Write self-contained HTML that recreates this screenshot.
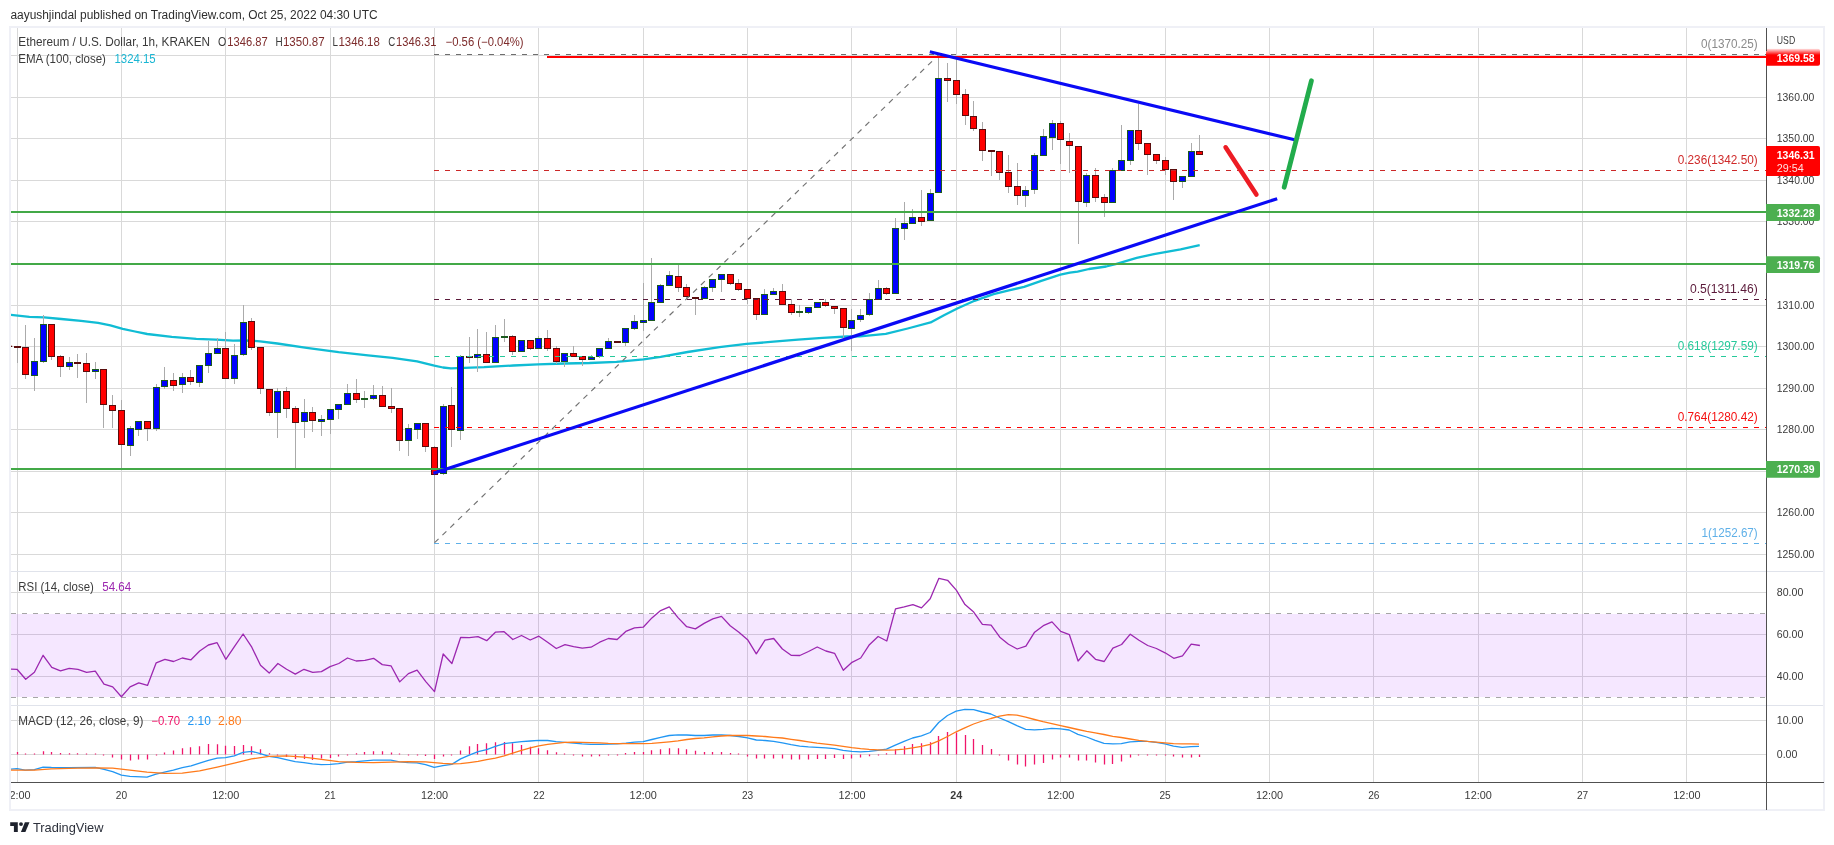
<!DOCTYPE html>
<html><head><meta charset="utf-8"><title>ETHUSD chart</title>
<style>html,body{margin:0;padding:0;background:#fff;}body{width:1834px;height:845px;overflow:hidden;position:relative;font-family:"Liberation Sans",sans-serif;}</style>
</head><body>
<svg width="1834" height="845" viewBox="0 0 1834 845" style="position:absolute;left:0;top:0;display:block;will-change:transform;-webkit-font-smoothing:antialiased">
<rect x="0" y="0" width="1834" height="845" fill="#ffffff"/>
<path d="M17.5 28.0V782M121.5 28.0V782M225.5 28.0V782M330.5 28.0V782M434.5 28.0V782M538.5 28.0V782M643.5 28.0V782M747.5 28.0V782M851.5 28.0V782M956.5 28.0V782M1060.5 28.0V782M1165.5 28.0V782M1269.5 28.0V782M1373.5 28.0V782M1478.5 28.0V782M1582.5 28.0V782M1686.5 28.0V782M11.0 554.5H1766.5M11.0 512.5H1766.5M11.0 471.5H1766.5M11.0 429.5H1766.5M11.0 388.5H1766.5M11.0 346.5H1766.5M11.0 305.5H1766.5M11.0 263.5H1766.5M11.0 221.5H1766.5M11.0 180.5H1766.5M11.0 138.5H1766.5M11.0 97.5H1766.5M11.0 55.5H1766.5M11.0 592.5H1766.5M11.0 634.5H1766.5M11.0 676.5H1766.5M11.0 720.5H1766.5M11.0 754.5H1766.5" stroke="#d9d9d9" stroke-width="1" fill="none" shape-rendering="crispEdges"/>
<path d="M11.0 571.5H1823.5M11.0 705.5H1823.5" stroke="#e0e3eb" stroke-width="1" shape-rendering="crispEdges"/>
<rect x="11.0" y="614" width="1755.0" height="83" fill="rgba(153,21,255,0.1)"/>
<path d="M11.0 613.5H1766.5M11.0 697.5H1766.5" stroke="#a6a6a6" stroke-width="1" stroke-dasharray="5 6" fill="none"/>
<clipPath id="cm"><rect x="11.0" y="28.0" width="1755.0" height="754.0"/></clipPath>
<g clip-path="url(#cm)">
<polyline points="9.8,314.8 29.4,316.8 44.2,317.3 61.3,319.0 81.0,320.9 98.1,322.9 110.4,325.4 122.7,328.8 135.0,331.5 147.2,334.0 171.8,336.9 196.3,338.9 215.9,339.6 233.1,340.6 246.0,340.5 260.1,341.3 277.3,343.5 306.7,347.9 338.6,352.1 368.0,355.3 392.6,357.8 417.1,361.4 434.3,365.6 443.0,367.5 450.9,368.4 464.3,367.9 484.0,367.2 513.4,365.5 538.0,364.3 565.0,363.5 589.5,363.0 616.5,361.8 643.5,359.4 660.6,356.9 687.6,352.0 719.5,347.1 746.5,343.9 773.5,341.7 798.0,339.7 822.6,337.8 847.1,336.5 860.0,336.4 885.8,333.9 907.7,328.5 930.6,322.4 944.0,315.2 957.3,308.5 974.5,300.8 993.6,294.2 1008.9,290.3 1024.1,286.9 1041.3,280.8 1060.4,274.7 1069.9,272.6 1077.6,271.6 1089.0,269.0 1106.2,266.5 1115.7,264.2 1136.7,257.9 1153.9,254.1 1180.6,249.3 1199.7,245.1" stroke="#10bcd4" stroke-width="2.3" fill="none" stroke-linejoin="round"/>
<path d="M17.5 346V363" stroke="#ababab" stroke-width="1" shape-rendering="crispEdges"/>
<rect x="14.5" y="346.5" width="6" height="1" fill="#5a0d0d" stroke="#5a0d0d" stroke-width="1"/>
<path d="M25.5 325V379" stroke="#ababab" stroke-width="1" shape-rendering="crispEdges"/>
<rect x="22.5" y="347.5" width="6" height="27" fill="#ff0000" stroke="#5a0d0d" stroke-width="1"/>
<path d="M34.5 338V391" stroke="#ababab" stroke-width="1" shape-rendering="crispEdges"/>
<rect x="31.5" y="361.5" width="6" height="14" fill="#0000ff" stroke="#1a5a1e" stroke-width="1"/>
<path d="M43.5 315V363" stroke="#ababab" stroke-width="1" shape-rendering="crispEdges"/>
<rect x="40.5" y="324.5" width="6" height="37" fill="#0000ff" stroke="#1a5a1e" stroke-width="1"/>
<path d="M51.5 324V360" stroke="#ababab" stroke-width="1" shape-rendering="crispEdges"/>
<rect x="48.5" y="324.5" width="6" height="32" fill="#ff0000" stroke="#5a0d0d" stroke-width="1"/>
<path d="M60.5 355V377" stroke="#ababab" stroke-width="1" shape-rendering="crispEdges"/>
<rect x="57.5" y="356.5" width="6" height="10" fill="#ff0000" stroke="#5a0d0d" stroke-width="1"/>
<path d="M69.5 357V370" stroke="#ababab" stroke-width="1" shape-rendering="crispEdges"/>
<rect x="66.5" y="362.5" width="6" height="4" fill="#0000ff" stroke="#1a5a1e" stroke-width="1"/>
<path d="M77.5 354V378" stroke="#ababab" stroke-width="1" shape-rendering="crispEdges"/>
<rect x="74.5" y="362.5" width="6" height="1" fill="#ff0000" stroke="#5a0d0d" stroke-width="1"/>
<path d="M86.5 353V403" stroke="#ababab" stroke-width="1" shape-rendering="crispEdges"/>
<rect x="83.5" y="363.5" width="6" height="8" fill="#ff0000" stroke="#5a0d0d" stroke-width="1"/>
<path d="M95.5 362V379" stroke="#ababab" stroke-width="1" shape-rendering="crispEdges"/>
<rect x="92.5" y="369.5" width="6" height="2" fill="#0000ff" stroke="#1a5a1e" stroke-width="1"/>
<path d="M103.5 369V428" stroke="#ababab" stroke-width="1" shape-rendering="crispEdges"/>
<rect x="100.5" y="369.5" width="6" height="35" fill="#ff0000" stroke="#5a0d0d" stroke-width="1"/>
<path d="M112.5 395V428" stroke="#ababab" stroke-width="1" shape-rendering="crispEdges"/>
<rect x="109.5" y="405.5" width="6" height="5" fill="#ff0000" stroke="#5a0d0d" stroke-width="1"/>
<path d="M121.5 400V468" stroke="#ababab" stroke-width="1" shape-rendering="crispEdges"/>
<rect x="118.5" y="410.5" width="6" height="34" fill="#ff0000" stroke="#5a0d0d" stroke-width="1"/>
<path d="M130.5 426V456" stroke="#ababab" stroke-width="1" shape-rendering="crispEdges"/>
<rect x="127.5" y="428.5" width="6" height="17" fill="#0000ff" stroke="#1a5a1e" stroke-width="1"/>
<path d="M138.5 421V436" stroke="#ababab" stroke-width="1" shape-rendering="crispEdges"/>
<rect x="135.5" y="421.5" width="6" height="8" fill="#0000ff" stroke="#1a5a1e" stroke-width="1"/>
<path d="M147.5 421V441" stroke="#ababab" stroke-width="1" shape-rendering="crispEdges"/>
<rect x="144.5" y="421.5" width="6" height="7" fill="#ff0000" stroke="#5a0d0d" stroke-width="1"/>
<path d="M156.5 384V431" stroke="#ababab" stroke-width="1" shape-rendering="crispEdges"/>
<rect x="153.5" y="387.5" width="6" height="41" fill="#0000ff" stroke="#1a5a1e" stroke-width="1"/>
<path d="M164.5 367V389" stroke="#ababab" stroke-width="1" shape-rendering="crispEdges"/>
<rect x="161.5" y="380.5" width="6" height="6" fill="#0000ff" stroke="#1a5a1e" stroke-width="1"/>
<path d="M173.5 373V391" stroke="#ababab" stroke-width="1" shape-rendering="crispEdges"/>
<rect x="170.5" y="380.5" width="6" height="5" fill="#ff0000" stroke="#5a0d0d" stroke-width="1"/>
<path d="M182.5 373V393" stroke="#ababab" stroke-width="1" shape-rendering="crispEdges"/>
<rect x="179.5" y="377.5" width="6" height="7" fill="#0000ff" stroke="#1a5a1e" stroke-width="1"/>
<path d="M190.5 370V385" stroke="#ababab" stroke-width="1" shape-rendering="crispEdges"/>
<rect x="187.5" y="377.5" width="6" height="4" fill="#ff0000" stroke="#5a0d0d" stroke-width="1"/>
<path d="M199.5 365V387" stroke="#ababab" stroke-width="1" shape-rendering="crispEdges"/>
<rect x="196.5" y="365.5" width="6" height="17" fill="#0000ff" stroke="#1a5a1e" stroke-width="1"/>
<path d="M208.5 341V373" stroke="#ababab" stroke-width="1" shape-rendering="crispEdges"/>
<rect x="205.5" y="353.5" width="6" height="12" fill="#0000ff" stroke="#1a5a1e" stroke-width="1"/>
<path d="M217.5 338V354" stroke="#ababab" stroke-width="1" shape-rendering="crispEdges"/>
<rect x="214.5" y="348.5" width="6" height="5" fill="#0000ff" stroke="#1a5a1e" stroke-width="1"/>
<path d="M225.5 332V379" stroke="#ababab" stroke-width="1" shape-rendering="crispEdges"/>
<rect x="222.5" y="348.5" width="6" height="30" fill="#ff0000" stroke="#5a0d0d" stroke-width="1"/>
<path d="M234.5 344V384" stroke="#ababab" stroke-width="1" shape-rendering="crispEdges"/>
<rect x="231.5" y="355.5" width="6" height="23" fill="#0000ff" stroke="#1a5a1e" stroke-width="1"/>
<path d="M243.5 305V356" stroke="#ababab" stroke-width="1" shape-rendering="crispEdges"/>
<rect x="240.5" y="322.5" width="6" height="32" fill="#0000ff" stroke="#1a5a1e" stroke-width="1"/>
<path d="M251.5 318V350" stroke="#ababab" stroke-width="1" shape-rendering="crispEdges"/>
<rect x="248.5" y="321.5" width="6" height="26" fill="#ff0000" stroke="#5a0d0d" stroke-width="1"/>
<path d="M260.5 347V394" stroke="#ababab" stroke-width="1" shape-rendering="crispEdges"/>
<rect x="257.5" y="347.5" width="6" height="41" fill="#ff0000" stroke="#5a0d0d" stroke-width="1"/>
<path d="M269.5 389V416" stroke="#ababab" stroke-width="1" shape-rendering="crispEdges"/>
<rect x="266.5" y="389.5" width="6" height="23" fill="#ff0000" stroke="#5a0d0d" stroke-width="1"/>
<path d="M277.5 388V438" stroke="#ababab" stroke-width="1" shape-rendering="crispEdges"/>
<rect x="274.5" y="391.5" width="6" height="21" fill="#0000ff" stroke="#1a5a1e" stroke-width="1"/>
<path d="M286.5 387V418" stroke="#ababab" stroke-width="1" shape-rendering="crispEdges"/>
<rect x="283.5" y="391.5" width="6" height="17" fill="#ff0000" stroke="#5a0d0d" stroke-width="1"/>
<path d="M295.5 406V468" stroke="#ababab" stroke-width="1" shape-rendering="crispEdges"/>
<rect x="292.5" y="408.5" width="6" height="14" fill="#ff0000" stroke="#5a0d0d" stroke-width="1"/>
<path d="M304.5 399V438" stroke="#ababab" stroke-width="1" shape-rendering="crispEdges"/>
<rect x="301.5" y="412.5" width="6" height="9" fill="#0000ff" stroke="#1a5a1e" stroke-width="1"/>
<path d="M312.5 407V432" stroke="#ababab" stroke-width="1" shape-rendering="crispEdges"/>
<rect x="309.5" y="412.5" width="6" height="8" fill="#ff0000" stroke="#5a0d0d" stroke-width="1"/>
<path d="M321.5 415V436" stroke="#ababab" stroke-width="1" shape-rendering="crispEdges"/>
<rect x="318.5" y="419.5" width="6" height="2" fill="#0000ff" stroke="#1a5a1e" stroke-width="1"/>
<path d="M330.5 409V434" stroke="#ababab" stroke-width="1" shape-rendering="crispEdges"/>
<rect x="327.5" y="409.5" width="6" height="10" fill="#0000ff" stroke="#1a5a1e" stroke-width="1"/>
<path d="M338.5 404V419" stroke="#ababab" stroke-width="1" shape-rendering="crispEdges"/>
<rect x="335.5" y="404.5" width="6" height="5" fill="#0000ff" stroke="#1a5a1e" stroke-width="1"/>
<path d="M347.5 384V405" stroke="#ababab" stroke-width="1" shape-rendering="crispEdges"/>
<rect x="344.5" y="393.5" width="6" height="11" fill="#0000ff" stroke="#1a5a1e" stroke-width="1"/>
<path d="M356.5 379V403" stroke="#ababab" stroke-width="1" shape-rendering="crispEdges"/>
<rect x="353.5" y="393.5" width="6" height="6" fill="#ff0000" stroke="#5a0d0d" stroke-width="1"/>
<path d="M364.5 391V408" stroke="#ababab" stroke-width="1" shape-rendering="crispEdges"/>
<rect x="361.5" y="398.5" width="6" height="1" fill="#0000ff" stroke="#1a5a1e" stroke-width="1"/>
<path d="M373.5 385V400" stroke="#ababab" stroke-width="1" shape-rendering="crispEdges"/>
<rect x="370.5" y="395.5" width="6" height="3" fill="#0000ff" stroke="#1a5a1e" stroke-width="1"/>
<path d="M382.5 386V407" stroke="#ababab" stroke-width="1" shape-rendering="crispEdges"/>
<rect x="379.5" y="395.5" width="6" height="11" fill="#ff0000" stroke="#5a0d0d" stroke-width="1"/>
<path d="M391.5 388V413" stroke="#ababab" stroke-width="1" shape-rendering="crispEdges"/>
<rect x="388.5" y="406.5" width="6" height="2" fill="#ff0000" stroke="#5a0d0d" stroke-width="1"/>
<path d="M399.5 408V451" stroke="#ababab" stroke-width="1" shape-rendering="crispEdges"/>
<rect x="396.5" y="408.5" width="6" height="32" fill="#ff0000" stroke="#5a0d0d" stroke-width="1"/>
<path d="M408.5 424V456" stroke="#ababab" stroke-width="1" shape-rendering="crispEdges"/>
<rect x="405.5" y="428.5" width="6" height="12" fill="#0000ff" stroke="#1a5a1e" stroke-width="1"/>
<path d="M417.5 423V439" stroke="#ababab" stroke-width="1" shape-rendering="crispEdges"/>
<rect x="414.5" y="423.5" width="6" height="6" fill="#0000ff" stroke="#1a5a1e" stroke-width="1"/>
<path d="M425.5 423V452" stroke="#ababab" stroke-width="1" shape-rendering="crispEdges"/>
<rect x="422.5" y="423.5" width="6" height="23" fill="#ff0000" stroke="#5a0d0d" stroke-width="1"/>
<path d="M434.5 446V543" stroke="#ababab" stroke-width="1" shape-rendering="crispEdges"/>
<rect x="431.5" y="447.5" width="6" height="27" fill="#ff0000" stroke="#5a0d0d" stroke-width="1"/>
<path d="M443.5 404V475" stroke="#ababab" stroke-width="1" shape-rendering="crispEdges"/>
<rect x="440.5" y="406.5" width="6" height="67" fill="#0000ff" stroke="#1a5a1e" stroke-width="1"/>
<path d="M451.5 387V447" stroke="#ababab" stroke-width="1" shape-rendering="crispEdges"/>
<rect x="448.5" y="405.5" width="6" height="24" fill="#ff0000" stroke="#5a0d0d" stroke-width="1"/>
<path d="M460.5 355V440" stroke="#ababab" stroke-width="1" shape-rendering="crispEdges"/>
<rect x="457.5" y="356.5" width="6" height="74" fill="#0000ff" stroke="#1a5a1e" stroke-width="1"/>
<path d="M469.5 337V363" stroke="#ababab" stroke-width="1" shape-rendering="crispEdges"/>
<rect x="466.5" y="356.5" width="6" height="1" fill="#ff0000" stroke="#5a0d0d" stroke-width="1"/>
<path d="M477.5 329V372" stroke="#ababab" stroke-width="1" shape-rendering="crispEdges"/>
<rect x="474.5" y="354.5" width="6" height="3" fill="#0000ff" stroke="#1a5a1e" stroke-width="1"/>
<path d="M486.5 332V363" stroke="#ababab" stroke-width="1" shape-rendering="crispEdges"/>
<rect x="483.5" y="354.5" width="6" height="8" fill="#ff0000" stroke="#5a0d0d" stroke-width="1"/>
<path d="M495.5 325V363" stroke="#ababab" stroke-width="1" shape-rendering="crispEdges"/>
<rect x="492.5" y="337.5" width="6" height="25" fill="#0000ff" stroke="#1a5a1e" stroke-width="1"/>
<path d="M504.5 319V342" stroke="#ababab" stroke-width="1" shape-rendering="crispEdges"/>
<rect x="501.5" y="336.5" width="6" height="1" fill="#0000ff" stroke="#1a5a1e" stroke-width="1"/>
<path d="M512.5 335V355" stroke="#ababab" stroke-width="1" shape-rendering="crispEdges"/>
<rect x="509.5" y="336.5" width="6" height="15" fill="#ff0000" stroke="#5a0d0d" stroke-width="1"/>
<path d="M521.5 340V352" stroke="#ababab" stroke-width="1" shape-rendering="crispEdges"/>
<rect x="518.5" y="340.5" width="6" height="11" fill="#0000ff" stroke="#1a5a1e" stroke-width="1"/>
<path d="M530.5 340V350" stroke="#ababab" stroke-width="1" shape-rendering="crispEdges"/>
<rect x="527.5" y="340.5" width="6" height="8" fill="#ff0000" stroke="#5a0d0d" stroke-width="1"/>
<path d="M538.5 336V349" stroke="#ababab" stroke-width="1" shape-rendering="crispEdges"/>
<rect x="535.5" y="338.5" width="6" height="10" fill="#0000ff" stroke="#1a5a1e" stroke-width="1"/>
<path d="M547.5 330V351" stroke="#ababab" stroke-width="1" shape-rendering="crispEdges"/>
<rect x="544.5" y="338.5" width="6" height="10" fill="#ff0000" stroke="#5a0d0d" stroke-width="1"/>
<path d="M556.5 346V364" stroke="#ababab" stroke-width="1" shape-rendering="crispEdges"/>
<rect x="553.5" y="348.5" width="6" height="13" fill="#ff0000" stroke="#5a0d0d" stroke-width="1"/>
<path d="M564.5 353V367" stroke="#ababab" stroke-width="1" shape-rendering="crispEdges"/>
<rect x="561.5" y="353.5" width="6" height="8" fill="#0000ff" stroke="#1a5a1e" stroke-width="1"/>
<path d="M573.5 346V357" stroke="#ababab" stroke-width="1" shape-rendering="crispEdges"/>
<rect x="570.5" y="353.5" width="6" height="3" fill="#ff0000" stroke="#5a0d0d" stroke-width="1"/>
<path d="M582.5 356V366" stroke="#ababab" stroke-width="1" shape-rendering="crispEdges"/>
<rect x="579.5" y="356.5" width="6" height="3" fill="#ff0000" stroke="#5a0d0d" stroke-width="1"/>
<path d="M591.5 355V360" stroke="#ababab" stroke-width="1" shape-rendering="crispEdges"/>
<rect x="588.5" y="357.5" width="6" height="2" fill="#0000ff" stroke="#1a5a1e" stroke-width="1"/>
<path d="M599.5 348V358" stroke="#ababab" stroke-width="1" shape-rendering="crispEdges"/>
<rect x="596.5" y="348.5" width="6" height="8" fill="#0000ff" stroke="#1a5a1e" stroke-width="1"/>
<path d="M608.5 338V349" stroke="#ababab" stroke-width="1" shape-rendering="crispEdges"/>
<rect x="605.5" y="341.5" width="6" height="7" fill="#0000ff" stroke="#1a5a1e" stroke-width="1"/>
<path d="M617.5 341V343" stroke="#ababab" stroke-width="1" shape-rendering="crispEdges"/>
<rect x="614.5" y="341.5" width="6" height="1" fill="#ff0000" stroke="#5a0d0d" stroke-width="1"/>
<path d="M625.5 328V346" stroke="#ababab" stroke-width="1" shape-rendering="crispEdges"/>
<rect x="622.5" y="328.5" width="6" height="14" fill="#0000ff" stroke="#1a5a1e" stroke-width="1"/>
<path d="M634.5 315V330" stroke="#ababab" stroke-width="1" shape-rendering="crispEdges"/>
<rect x="631.5" y="321.5" width="6" height="7" fill="#0000ff" stroke="#1a5a1e" stroke-width="1"/>
<path d="M643.5 283V331" stroke="#ababab" stroke-width="1" shape-rendering="crispEdges"/>
<rect x="640.5" y="320.5" width="6" height="2" fill="#0000ff" stroke="#1a5a1e" stroke-width="1"/>
<path d="M651.5 258V321" stroke="#ababab" stroke-width="1" shape-rendering="crispEdges"/>
<rect x="648.5" y="302.5" width="6" height="18" fill="#0000ff" stroke="#1a5a1e" stroke-width="1"/>
<path d="M660.5 284V303" stroke="#ababab" stroke-width="1" shape-rendering="crispEdges"/>
<rect x="657.5" y="285.5" width="6" height="17" fill="#0000ff" stroke="#1a5a1e" stroke-width="1"/>
<path d="M669.5 271V286" stroke="#ababab" stroke-width="1" shape-rendering="crispEdges"/>
<rect x="666.5" y="275.5" width="6" height="10" fill="#0000ff" stroke="#1a5a1e" stroke-width="1"/>
<path d="M678.5 265V292" stroke="#ababab" stroke-width="1" shape-rendering="crispEdges"/>
<rect x="675.5" y="276.5" width="6" height="11" fill="#ff0000" stroke="#5a0d0d" stroke-width="1"/>
<path d="M686.5 284V299" stroke="#ababab" stroke-width="1" shape-rendering="crispEdges"/>
<rect x="683.5" y="287.5" width="6" height="9" fill="#ff0000" stroke="#5a0d0d" stroke-width="1"/>
<path d="M695.5 297V315" stroke="#ababab" stroke-width="1" shape-rendering="crispEdges"/>
<rect x="692.5" y="297.5" width="6" height="1" fill="#ff0000" stroke="#5a0d0d" stroke-width="1"/>
<path d="M704.5 286V299" stroke="#ababab" stroke-width="1" shape-rendering="crispEdges"/>
<rect x="701.5" y="287.5" width="6" height="11" fill="#0000ff" stroke="#1a5a1e" stroke-width="1"/>
<path d="M712.5 279V292" stroke="#ababab" stroke-width="1" shape-rendering="crispEdges"/>
<rect x="709.5" y="279.5" width="6" height="8" fill="#0000ff" stroke="#1a5a1e" stroke-width="1"/>
<path d="M721.5 274V292" stroke="#ababab" stroke-width="1" shape-rendering="crispEdges"/>
<rect x="718.5" y="274.5" width="6" height="5" fill="#0000ff" stroke="#1a5a1e" stroke-width="1"/>
<path d="M730.5 274V285" stroke="#ababab" stroke-width="1" shape-rendering="crispEdges"/>
<rect x="727.5" y="274.5" width="6" height="9" fill="#ff0000" stroke="#5a0d0d" stroke-width="1"/>
<path d="M738.5 279V291" stroke="#ababab" stroke-width="1" shape-rendering="crispEdges"/>
<rect x="735.5" y="283.5" width="6" height="6" fill="#ff0000" stroke="#5a0d0d" stroke-width="1"/>
<path d="M747.5 289V304" stroke="#ababab" stroke-width="1" shape-rendering="crispEdges"/>
<rect x="744.5" y="289.5" width="6" height="9" fill="#ff0000" stroke="#5a0d0d" stroke-width="1"/>
<path d="M756.5 298V320" stroke="#ababab" stroke-width="1" shape-rendering="crispEdges"/>
<rect x="753.5" y="298.5" width="6" height="16" fill="#ff0000" stroke="#5a0d0d" stroke-width="1"/>
<path d="M764.5 289V315" stroke="#ababab" stroke-width="1" shape-rendering="crispEdges"/>
<rect x="761.5" y="294.5" width="6" height="20" fill="#0000ff" stroke="#1a5a1e" stroke-width="1"/>
<path d="M773.5 288V295" stroke="#ababab" stroke-width="1" shape-rendering="crispEdges"/>
<rect x="770.5" y="291.5" width="6" height="3" fill="#0000ff" stroke="#1a5a1e" stroke-width="1"/>
<path d="M782.5 284V305" stroke="#ababab" stroke-width="1" shape-rendering="crispEdges"/>
<rect x="779.5" y="291.5" width="6" height="13" fill="#ff0000" stroke="#5a0d0d" stroke-width="1"/>
<path d="M791.5 299V315" stroke="#ababab" stroke-width="1" shape-rendering="crispEdges"/>
<rect x="788.5" y="304.5" width="6" height="8" fill="#ff0000" stroke="#5a0d0d" stroke-width="1"/>
<path d="M799.5 305V317" stroke="#ababab" stroke-width="1" shape-rendering="crispEdges"/>
<rect x="796.5" y="311.5" width="6" height="1" fill="#0000ff" stroke="#1a5a1e" stroke-width="1"/>
<path d="M808.5 307V314" stroke="#ababab" stroke-width="1" shape-rendering="crispEdges"/>
<rect x="805.5" y="307.5" width="6" height="5" fill="#0000ff" stroke="#1a5a1e" stroke-width="1"/>
<path d="M817.5 302V308" stroke="#ababab" stroke-width="1" shape-rendering="crispEdges"/>
<rect x="814.5" y="302.5" width="6" height="5" fill="#0000ff" stroke="#1a5a1e" stroke-width="1"/>
<path d="M825.5 299V307" stroke="#ababab" stroke-width="1" shape-rendering="crispEdges"/>
<rect x="822.5" y="302.5" width="6" height="3" fill="#ff0000" stroke="#5a0d0d" stroke-width="1"/>
<path d="M834.5 306V314" stroke="#ababab" stroke-width="1" shape-rendering="crispEdges"/>
<rect x="831.5" y="306.5" width="6" height="2" fill="#ff0000" stroke="#5a0d0d" stroke-width="1"/>
<path d="M843.5 308V338" stroke="#ababab" stroke-width="1" shape-rendering="crispEdges"/>
<rect x="840.5" y="308.5" width="6" height="19" fill="#ff0000" stroke="#5a0d0d" stroke-width="1"/>
<path d="M851.5 309V351" stroke="#ababab" stroke-width="1" shape-rendering="crispEdges"/>
<rect x="848.5" y="320.5" width="6" height="8" fill="#0000ff" stroke="#1a5a1e" stroke-width="1"/>
<path d="M860.5 309V322" stroke="#ababab" stroke-width="1" shape-rendering="crispEdges"/>
<rect x="857.5" y="315.5" width="6" height="4" fill="#0000ff" stroke="#1a5a1e" stroke-width="1"/>
<path d="M869.5 293V316" stroke="#ababab" stroke-width="1" shape-rendering="crispEdges"/>
<rect x="866.5" y="299.5" width="6" height="15" fill="#0000ff" stroke="#1a5a1e" stroke-width="1"/>
<path d="M878.5 280V300" stroke="#ababab" stroke-width="1" shape-rendering="crispEdges"/>
<rect x="875.5" y="288.5" width="6" height="11" fill="#0000ff" stroke="#1a5a1e" stroke-width="1"/>
<path d="M886.5 287V295" stroke="#ababab" stroke-width="1" shape-rendering="crispEdges"/>
<rect x="883.5" y="288.5" width="6" height="5" fill="#ff0000" stroke="#5a0d0d" stroke-width="1"/>
<path d="M895.5 218V294" stroke="#ababab" stroke-width="1" shape-rendering="crispEdges"/>
<rect x="892.5" y="228.5" width="6" height="65" fill="#0000ff" stroke="#1a5a1e" stroke-width="1"/>
<path d="M904.5 202V240" stroke="#ababab" stroke-width="1" shape-rendering="crispEdges"/>
<rect x="901.5" y="223.5" width="6" height="5" fill="#0000ff" stroke="#1a5a1e" stroke-width="1"/>
<path d="M912.5 209V224" stroke="#ababab" stroke-width="1" shape-rendering="crispEdges"/>
<rect x="909.5" y="217.5" width="6" height="6" fill="#0000ff" stroke="#1a5a1e" stroke-width="1"/>
<path d="M921.5 190V226" stroke="#ababab" stroke-width="1" shape-rendering="crispEdges"/>
<rect x="918.5" y="217.5" width="6" height="4" fill="#ff0000" stroke="#5a0d0d" stroke-width="1"/>
<path d="M930.5 189V221" stroke="#ababab" stroke-width="1" shape-rendering="crispEdges"/>
<rect x="927.5" y="193.5" width="6" height="27" fill="#0000ff" stroke="#1a5a1e" stroke-width="1"/>
<path d="M938.5 55V193" stroke="#ababab" stroke-width="1" shape-rendering="crispEdges"/>
<rect x="935.5" y="78.5" width="6" height="114" fill="#0000ff" stroke="#1a5a1e" stroke-width="1"/>
<path d="M947.5 63V102" stroke="#ababab" stroke-width="1" shape-rendering="crispEdges"/>
<rect x="944.5" y="78.5" width="6" height="2" fill="#ff0000" stroke="#5a0d0d" stroke-width="1"/>
<path d="M956.5 58V104" stroke="#ababab" stroke-width="1" shape-rendering="crispEdges"/>
<rect x="953.5" y="80.5" width="6" height="14" fill="#ff0000" stroke="#5a0d0d" stroke-width="1"/>
<path d="M965.5 89V125" stroke="#ababab" stroke-width="1" shape-rendering="crispEdges"/>
<rect x="962.5" y="94.5" width="6" height="21" fill="#ff0000" stroke="#5a0d0d" stroke-width="1"/>
<path d="M973.5 101V131" stroke="#ababab" stroke-width="1" shape-rendering="crispEdges"/>
<rect x="970.5" y="116.5" width="6" height="12" fill="#ff0000" stroke="#5a0d0d" stroke-width="1"/>
<path d="M982.5 122V161" stroke="#ababab" stroke-width="1" shape-rendering="crispEdges"/>
<rect x="979.5" y="129.5" width="6" height="21" fill="#ff0000" stroke="#5a0d0d" stroke-width="1"/>
<path d="M991.5 150V176" stroke="#ababab" stroke-width="1" shape-rendering="crispEdges"/>
<rect x="988.5" y="150.5" width="6" height="1" fill="#ff0000" stroke="#5a0d0d" stroke-width="1"/>
<path d="M999.5 151V180" stroke="#ababab" stroke-width="1" shape-rendering="crispEdges"/>
<rect x="996.5" y="151.5" width="6" height="21" fill="#ff0000" stroke="#5a0d0d" stroke-width="1"/>
<path d="M1008.5 155V193" stroke="#ababab" stroke-width="1" shape-rendering="crispEdges"/>
<rect x="1005.5" y="172.5" width="6" height="14" fill="#ff0000" stroke="#5a0d0d" stroke-width="1"/>
<path d="M1017.5 163V205" stroke="#ababab" stroke-width="1" shape-rendering="crispEdges"/>
<rect x="1014.5" y="186.5" width="6" height="9" fill="#ff0000" stroke="#5a0d0d" stroke-width="1"/>
<path d="M1025.5 186V207" stroke="#ababab" stroke-width="1" shape-rendering="crispEdges"/>
<rect x="1022.5" y="190.5" width="6" height="5" fill="#0000ff" stroke="#1a5a1e" stroke-width="1"/>
<path d="M1034.5 153V194" stroke="#ababab" stroke-width="1" shape-rendering="crispEdges"/>
<rect x="1031.5" y="155.5" width="6" height="34" fill="#0000ff" stroke="#1a5a1e" stroke-width="1"/>
<path d="M1043.5 129V156" stroke="#ababab" stroke-width="1" shape-rendering="crispEdges"/>
<rect x="1040.5" y="136.5" width="6" height="19" fill="#0000ff" stroke="#1a5a1e" stroke-width="1"/>
<path d="M1052.5 120V150" stroke="#ababab" stroke-width="1" shape-rendering="crispEdges"/>
<rect x="1049.5" y="123.5" width="6" height="14" fill="#0000ff" stroke="#1a5a1e" stroke-width="1"/>
<path d="M1060.5 121V164" stroke="#ababab" stroke-width="1" shape-rendering="crispEdges"/>
<rect x="1057.5" y="123.5" width="6" height="16" fill="#ff0000" stroke="#5a0d0d" stroke-width="1"/>
<path d="M1069.5 133V173" stroke="#ababab" stroke-width="1" shape-rendering="crispEdges"/>
<rect x="1066.5" y="141.5" width="6" height="4" fill="#ff0000" stroke="#5a0d0d" stroke-width="1"/>
<path d="M1078.5 146V244" stroke="#ababab" stroke-width="1" shape-rendering="crispEdges"/>
<rect x="1075.5" y="146.5" width="6" height="55" fill="#ff0000" stroke="#5a0d0d" stroke-width="1"/>
<path d="M1086.5 173V207" stroke="#ababab" stroke-width="1" shape-rendering="crispEdges"/>
<rect x="1083.5" y="175.5" width="6" height="27" fill="#0000ff" stroke="#1a5a1e" stroke-width="1"/>
<path d="M1095.5 168V202" stroke="#ababab" stroke-width="1" shape-rendering="crispEdges"/>
<rect x="1092.5" y="175.5" width="6" height="22" fill="#ff0000" stroke="#5a0d0d" stroke-width="1"/>
<path d="M1104.5 194V217" stroke="#ababab" stroke-width="1" shape-rendering="crispEdges"/>
<rect x="1101.5" y="197.5" width="6" height="5" fill="#ff0000" stroke="#5a0d0d" stroke-width="1"/>
<path d="M1112.5 168V203" stroke="#ababab" stroke-width="1" shape-rendering="crispEdges"/>
<rect x="1109.5" y="170.5" width="6" height="32" fill="#0000ff" stroke="#1a5a1e" stroke-width="1"/>
<path d="M1121.5 125V171" stroke="#ababab" stroke-width="1" shape-rendering="crispEdges"/>
<rect x="1118.5" y="160.5" width="6" height="10" fill="#0000ff" stroke="#1a5a1e" stroke-width="1"/>
<path d="M1130.5 130V165" stroke="#ababab" stroke-width="1" shape-rendering="crispEdges"/>
<rect x="1127.5" y="130.5" width="6" height="30" fill="#0000ff" stroke="#1a5a1e" stroke-width="1"/>
<path d="M1138.5 104V150" stroke="#ababab" stroke-width="1" shape-rendering="crispEdges"/>
<rect x="1135.5" y="130.5" width="6" height="13" fill="#ff0000" stroke="#5a0d0d" stroke-width="1"/>
<path d="M1147.5 143V175" stroke="#ababab" stroke-width="1" shape-rendering="crispEdges"/>
<rect x="1144.5" y="143.5" width="6" height="11" fill="#ff0000" stroke="#5a0d0d" stroke-width="1"/>
<path d="M1156.5 154V164" stroke="#ababab" stroke-width="1" shape-rendering="crispEdges"/>
<rect x="1153.5" y="154.5" width="6" height="6" fill="#ff0000" stroke="#5a0d0d" stroke-width="1"/>
<path d="M1165.5 157V175" stroke="#ababab" stroke-width="1" shape-rendering="crispEdges"/>
<rect x="1162.5" y="160.5" width="6" height="9" fill="#ff0000" stroke="#5a0d0d" stroke-width="1"/>
<path d="M1173.5 169V200" stroke="#ababab" stroke-width="1" shape-rendering="crispEdges"/>
<rect x="1170.5" y="169.5" width="6" height="12" fill="#ff0000" stroke="#5a0d0d" stroke-width="1"/>
<path d="M1182.5 176V188" stroke="#ababab" stroke-width="1" shape-rendering="crispEdges"/>
<rect x="1179.5" y="176.5" width="6" height="5" fill="#0000ff" stroke="#1a5a1e" stroke-width="1"/>
<path d="M1191.5 143V177" stroke="#ababab" stroke-width="1" shape-rendering="crispEdges"/>
<rect x="1188.5" y="151.5" width="6" height="25" fill="#0000ff" stroke="#1a5a1e" stroke-width="1"/>
<path d="M1199.5 135V155" stroke="#ababab" stroke-width="1" shape-rendering="crispEdges"/>
<rect x="1196.5" y="151.5" width="6" height="3" fill="#ff0000" stroke="#5a0d0d" stroke-width="1"/>
<rect x="10" y="345.7" width="2.2" height="1.3" fill="#5a0d0d"/>
<path d="M434 54.5H1766.5" stroke="#6e6e6e" stroke-width="1" stroke-dasharray="5 6" fill="none" shape-rendering="crispEdges"/>
<path d="M434 170.5H1766.5" stroke="#cc2828" stroke-width="1" stroke-dasharray="5 6" fill="none" shape-rendering="crispEdges"/>
<path d="M434 299.5H1766.5" stroke="#5b1a3a" stroke-width="1" stroke-dasharray="5 6" fill="none" shape-rendering="crispEdges"/>
<path d="M434 356.5H1766.5" stroke="#26c99a" stroke-width="1" stroke-dasharray="5 6" fill="none" shape-rendering="crispEdges"/>
<path d="M434 427.5H1766.5" stroke="#ff0000" stroke-width="1" stroke-dasharray="5 6" fill="none" shape-rendering="crispEdges"/>
<path d="M434 543.5H1766.5" stroke="#5fb0e8" stroke-width="1" stroke-dasharray="5 6" fill="none" shape-rendering="crispEdges"/>
<path d="M434.6 542.7L938 55.5" stroke="#727272" stroke-width="1.15" stroke-dasharray="5.5 5.4" fill="none"/>
<rect x="11.0" y="211" width="1756.0" height="2" fill="#43a947"/>
<rect x="11.0" y="263" width="1756.0" height="2" fill="#43a947"/>
<rect x="11.0" y="468" width="1756.0" height="2" fill="#43a947"/>
<rect x="547" y="56" width="1219.5" height="2" fill="#ff0000"/>
<path d="M433.4 473.2L1277.2 198.7" stroke="#0a0af5" stroke-width="3.2" fill="none"/>
<path d="M929.8 51.8L1294.6 139.8" stroke="#0a0af5" stroke-width="3.2" fill="none"/>
<path d="M1225.6 147.3L1256.4 194.6" stroke="#ed1c24" stroke-width="4.6" stroke-linecap="round" fill="none"/>
<path d="M1284.2 187.2L1311.4 80.8" stroke="#22ac4c" stroke-width="4.8" stroke-linecap="round" fill="none"/>
<polyline points="8.3,669.1 17.0,669.3 25.7,679.3 34.4,672.3 43.1,655.3 51.8,667.3 60.5,670.8 69.2,668.3 77.9,669.3 86.6,672.3 95.3,671.1 104.0,684.1 112.7,686.9 121.4,696.7 130.1,686.9 138.8,682.9 147.5,685.4 156.2,662.8 164.9,659.3 173.6,661.5 182.3,658.0 191.0,659.8 199.7,651.0 208.4,645.0 217.1,642.7 225.8,659.3 234.4,646.7 243.1,634.0 251.8,647.2 260.5,665.3 269.2,673.1 277.9,663.5 286.6,669.3 295.3,674.1 304.0,669.3 312.7,672.3 321.4,671.6 330.1,666.6 338.8,663.5 347.5,658.0 356.2,661.0 364.9,660.3 373.6,658.3 382.3,664.6 391.0,665.8 399.7,681.9 408.4,673.6 417.1,670.1 425.8,681.6 434.5,691.6 443.2,654.0 451.9,663.5 460.6,637.5 469.3,637.7 478.0,636.7 486.7,640.7 495.4,632.2 504.1,631.7 512.8,639.5 521.5,635.5 530.2,640.0 538.9,636.2 547.6,642.2 556.3,648.5 565.0,644.7 573.6,646.7 582.3,648.2 591.0,647.2 599.7,642.2 608.4,638.5 617.1,639.5 625.8,631.4 634.5,627.9 643.2,627.2 651.9,617.9 660.6,610.6 669.3,606.9 678.0,617.6 686.7,626.7 695.4,628.9 704.1,623.4 712.8,618.9 721.5,616.4 730.2,625.7 738.9,632.2 747.6,639.7 756.3,653.8 765.0,640.2 773.7,638.5 782.4,649.0 791.1,655.3 799.8,655.5 808.5,651.5 817.2,647.0 825.9,651.0 834.6,653.3 843.3,670.3 852.0,662.3 860.7,658.0 869.4,644.7 878.1,636.5 886.8,641.0 895.5,608.9 904.2,606.9 912.9,604.6 921.5,607.9 930.2,598.8 938.9,578.3 947.6,580.3 956.3,590.1 965.0,604.6 973.7,612.1 982.4,624.4 991.1,625.2 999.8,637.2 1008.5,644.2 1017.2,649.0 1025.9,646.2 1034.6,632.2 1043.3,625.7 1052.0,621.9 1060.7,631.4 1069.4,634.7 1078.1,661.0 1086.8,650.8 1095.5,659.3 1104.2,661.5 1112.9,648.2 1121.6,644.5 1130.3,634.2 1139.0,640.2 1147.7,645.5 1156.4,648.5 1165.1,652.8 1173.8,658.3 1182.5,655.8 1191.2,644.2 1199.9,645.5" stroke="#9c27b0" stroke-width="1.3" fill="none" stroke-linejoin="round"/>
<path d="M17.5 754.5V752.1M25.5 754.5V753.5M34.5 754.5V753.5M43.5 754.5V751.3M51.5 754.5V752.1M60.5 754.5V753.1M69.5 754.5V753.3M77.5 754.5V753.3M86.5 754.5V753.5M95.5 754.5V753.5M103.5 754.5V755.5M112.5 754.5V757.6M121.5 754.5V759.6M130.5 754.5V760.6M138.5 754.5V759.6M147.5 754.5V759.4M156.5 754.5V755.5M164.5 754.5V752.6M173.5 754.5V750.6M182.5 754.5V748.3M190.5 754.5V747.3M199.5 754.5V746.3M208.5 754.5V744.1M217.5 754.5V744.3M225.5 754.5V745.8M234.5 754.5V746.1M243.5 754.5V745.1M251.5 754.5V746.3M260.5 754.5V749.3M269.5 754.5V753.3M277.5 754.5V755.5M286.5 754.5V757.1M295.5 754.5V758.9M304.5 754.5V759.1M312.5 754.5V760.1M321.5 754.5V758.6M330.5 754.5V758.1M338.5 754.5V756.6M347.5 754.5V755.5M356.5 754.5V753.3M364.5 754.5V752.1M373.5 754.5V751.3M382.5 754.5V751.3M391.5 754.5V752.6M399.5 754.5V753.5M408.5 754.5V755.5M417.5 754.5V755.5M425.5 754.5V756.1M434.5 754.5V759.1M443.5 754.5V756.6M451.5 754.5V755.6M460.5 754.5V750.6M469.5 754.5V746.3M477.5 754.5V744.1M486.5 754.5V743.3M495.5 754.5V742.3M504.5 754.5V742.1M512.5 754.5V743.3M521.5 754.5V745.1M530.5 754.5V746.8M538.5 754.5V748.3M547.5 754.5V750.3M556.5 754.5V752.3M564.5 754.5V753.5M573.5 754.5V755.5M582.5 754.5V756.6M591.5 754.5V756.6M599.5 754.5V756.3M608.5 754.5V755.5M617.5 754.5V755.5M625.5 754.5V753.1M634.5 754.5V752.1M643.5 754.5V752.1M651.5 754.5V750.3M660.5 754.5V749.3M669.5 754.5V748.3M678.5 754.5V748.3M686.5 754.5V749.3M695.5 754.5V750.8M704.5 754.5V752.1M712.5 754.5V752.1M721.5 754.5V752.1M730.5 754.5V753.1M738.5 754.5V753.5M747.5 754.5V756.6M756.5 754.5V758.6M764.5 754.5V758.6M773.5 754.5V758.6M782.5 754.5V758.6M791.5 754.5V759.6M799.5 754.5V759.6M808.5 754.5V759.6M817.5 754.5V758.9M825.5 754.5V758.9M834.5 754.5V758.1M843.5 754.5V758.9M851.5 754.5V758.6M860.5 754.5V757.4M869.5 754.5V756.3M878.5 754.5V755.5M886.5 754.5V753.3M895.5 754.5V749.3M904.5 754.5V746.3M912.5 754.5V744.1M921.5 754.5V743.3M930.5 754.5V742.3M938.5 754.5V736.0M947.5 754.5V732.0M956.5 754.5V732.5M965.5 754.5V735.0M973.5 754.5V739.0M982.5 754.5V745.1M991.5 754.5V749.1M999.5 754.5V755.6M1008.5 754.5V760.6M1017.5 754.5V764.6M1025.5 754.5V766.6M1034.5 754.5V764.6M1043.5 754.5V762.9M1052.5 754.5V759.6M1060.5 754.5V757.6M1069.5 754.5V757.6M1078.5 754.5V760.6M1086.5 754.5V760.6M1095.5 754.5V762.6M1104.5 754.5V764.6M1112.5 754.5V763.9M1121.5 754.5V761.6M1130.5 754.5V757.6M1138.5 754.5V755.6M1147.5 754.5V755.5M1156.5 754.5V755.5M1165.5 754.5V755.6M1173.5 754.5V756.6M1182.5 754.5V757.6M1191.5 754.5V757.6M1199.5 754.5V756.9" stroke="#f0156a" stroke-width="1.3" fill="none"/>
<polyline points="10.0,769.1 17.1,768.6 25.1,770.1 34.4,769.6 43.1,767.1 51.4,767.4 69.0,767.6 95.3,767.4 104.1,769.4 112.6,771.6 121.4,775.2 129.9,776.4 147.0,777.2 156.0,774.2 164.5,772.2 173.3,770.1 182.3,767.6 191.1,765.9 199.6,763.1 208.4,760.4 217.2,758.1 225.5,757.6 234.3,755.8 243.0,752.3 251.6,751.3 260.3,753.6 269.1,756.3 277.7,757.6 286.2,759.6 295.2,761.6 304.0,762.6 312.5,763.9 321.3,764.6 330.1,764.4 338.6,763.6 347.4,762.1 356.2,761.6 364.7,760.9 373.5,760.1 390.8,760.1 399.5,761.9 408.3,762.6 416.9,762.9 425.6,764.6 434.2,767.4 442.9,765.6 451.8,764.4 460.6,758.9 469.3,755.1 478.1,751.6 486.7,749.6 495.4,746.3 504.2,743.6 512.7,742.6 521.5,741.6 530.3,741.0 538.8,740.3 547.6,740.5 556.1,741.6 564.9,742.3 573.7,743.1 582.2,743.8 591.0,744.3 599.8,744.3 608.3,744.1 617.1,743.8 625.9,743.1 634.6,742.1 643.2,741.6 651.9,739.5 660.7,737.3 669.2,735.5 678.0,734.8 686.8,735.0 695.3,735.5 704.1,735.5 712.9,735.0 721.4,734.8 730.2,735.5 739.0,736.5 747.5,737.8 756.3,740.0 765.1,740.5 773.6,741.3 782.4,742.8 791.1,744.6 799.7,746.1 808.4,746.8 817.0,747.3 825.8,747.8 834.5,748.6 843.1,750.3 851.8,751.3 860.6,751.8 869.1,751.3 877.9,750.3 886.5,749.1 895.3,745.1 904.1,741.3 912.6,738.0 921.4,735.8 930.2,732.5 938.7,722.5 947.5,715.5 956.2,711.2 964.8,709.4 973.6,709.7 982.3,712.0 990.9,714.0 999.6,718.0 1008.4,721.7 1016.9,725.7 1025.7,729.3 1034.5,729.8 1043.0,729.3 1051.8,728.3 1060.6,728.8 1069.1,730.0 1077.9,734.3 1086.7,737.0 1095.2,740.3 1104.0,743.3 1112.8,743.8 1121.3,743.6 1130.1,741.8 1138.8,741.3 1147.4,741.3 1156.1,742.3 1164.9,743.8 1173.5,746.1 1182.2,747.3 1191.0,746.6 1199.0,746.3" stroke="#2196f3" stroke-width="1.3" fill="none" stroke-linejoin="round"/>
<polyline points="10.0,770.1 34.4,770.1 51.4,768.9 77.8,768.1 95.3,767.9 112.6,768.1 129.9,770.1 147.0,772.2 164.5,773.4 182.3,773.2 199.6,770.9 217.2,767.1 234.3,763.1 251.6,758.9 269.1,756.3 286.2,755.8 304.0,757.1 321.3,759.4 338.6,761.6 356.2,762.4 373.5,762.6 390.8,762.1 408.3,761.6 425.6,761.9 442.9,763.4 451.8,763.9 460.6,763.6 469.3,762.6 478.1,761.4 486.7,759.6 495.4,758.1 504.2,755.8 512.7,753.1 521.5,750.3 530.3,747.8 538.8,745.8 547.6,744.3 556.1,743.3 564.9,742.3 573.7,742.1 582.2,742.3 591.0,742.6 599.8,742.8 608.3,743.3 617.1,743.6 625.9,743.6 634.6,743.6 643.2,743.6 651.9,743.3 660.7,742.6 669.2,741.8 678.0,740.8 686.8,739.5 695.3,738.5 704.1,737.8 712.9,736.8 721.4,736.0 730.2,735.5 739.0,735.5 747.5,735.5 756.3,736.0 765.1,736.5 773.6,737.3 782.4,738.0 791.1,739.3 799.7,740.5 808.4,741.8 817.0,743.1 825.8,744.1 834.5,745.1 843.1,746.3 851.8,747.6 860.6,748.6 869.1,749.3 877.9,749.8 886.5,750.1 895.3,749.8 904.1,749.1 912.6,747.8 921.4,746.3 930.2,744.3 938.7,740.8 947.5,736.5 956.2,731.8 964.8,727.8 973.6,724.0 982.3,721.0 990.9,718.5 999.6,716.2 1008.4,714.7 1016.9,715.2 1025.7,717.2 1034.5,719.5 1043.0,721.7 1051.8,723.7 1060.6,725.7 1069.1,727.5 1077.9,729.5 1086.7,731.3 1095.2,732.8 1104.0,734.5 1112.8,736.3 1121.3,737.5 1130.1,739.0 1138.8,740.3 1147.4,741.3 1156.1,742.1 1164.9,742.8 1173.5,743.6 1182.2,743.8 1191.0,743.8 1199.0,744.1" stroke="#ff7a1a" stroke-width="1.3" fill="none" stroke-linejoin="round"/>
</g>
<rect x="10" y="27" width="1814" height="783" fill="none" stroke="#eff0f6" stroke-width="2"/>
<path d="M1766.5 28.0V809.5M11.0 782.5H1823.5" stroke="#505050" stroke-width="1" fill="none" shape-rendering="crispEdges"/>
<text x="1776.8" y="44" font-family="Liberation Sans, sans-serif" font-size="11" fill="#3a3a3a" text-anchor="start" font-weight="normal" textLength="18.4" lengthAdjust="spacingAndGlyphs">USD</text>
<text x="1776.8" y="100.9" font-family="Liberation Sans, sans-serif" font-size="11" fill="#3a3a3a" text-anchor="start" font-weight="normal" textLength="37.6" lengthAdjust="spacingAndGlyphs">1360.00</text>
<text x="1776.8" y="141.9" font-family="Liberation Sans, sans-serif" font-size="11" fill="#3a3a3a" text-anchor="start" font-weight="normal" textLength="37.6" lengthAdjust="spacingAndGlyphs">1350.00</text>
<text x="1776.8" y="183.9" font-family="Liberation Sans, sans-serif" font-size="11" fill="#3a3a3a" text-anchor="start" font-weight="normal" textLength="37.6" lengthAdjust="spacingAndGlyphs">1340.00</text>
<text x="1776.8" y="224.9" font-family="Liberation Sans, sans-serif" font-size="11" fill="#3a3a3a" text-anchor="start" font-weight="normal" textLength="37.6" lengthAdjust="spacingAndGlyphs">1330.00</text>
<text x="1776.8" y="308.9" font-family="Liberation Sans, sans-serif" font-size="11" fill="#3a3a3a" text-anchor="start" font-weight="normal" textLength="37.6" lengthAdjust="spacingAndGlyphs">1310.00</text>
<text x="1776.8" y="349.9" font-family="Liberation Sans, sans-serif" font-size="11" fill="#3a3a3a" text-anchor="start" font-weight="normal" textLength="37.6" lengthAdjust="spacingAndGlyphs">1300.00</text>
<text x="1776.8" y="391.9" font-family="Liberation Sans, sans-serif" font-size="11" fill="#3a3a3a" text-anchor="start" font-weight="normal" textLength="37.6" lengthAdjust="spacingAndGlyphs">1290.00</text>
<text x="1776.8" y="432.9" font-family="Liberation Sans, sans-serif" font-size="11" fill="#3a3a3a" text-anchor="start" font-weight="normal" textLength="37.6" lengthAdjust="spacingAndGlyphs">1280.00</text>
<text x="1776.8" y="515.9" font-family="Liberation Sans, sans-serif" font-size="11" fill="#3a3a3a" text-anchor="start" font-weight="normal" textLength="37.6" lengthAdjust="spacingAndGlyphs">1260.00</text>
<text x="1776.8" y="557.9" font-family="Liberation Sans, sans-serif" font-size="11" fill="#3a3a3a" text-anchor="start" font-weight="normal" textLength="37.6" lengthAdjust="spacingAndGlyphs">1250.00</text>
<text x="1776.8" y="595.9" font-family="Liberation Sans, sans-serif" font-size="11" fill="#3a3a3a" text-anchor="start" font-weight="normal" textLength="26.5" lengthAdjust="spacingAndGlyphs">80.00</text>
<text x="1776.8" y="637.9" font-family="Liberation Sans, sans-serif" font-size="11" fill="#3a3a3a" text-anchor="start" font-weight="normal" textLength="26.5" lengthAdjust="spacingAndGlyphs">60.00</text>
<text x="1776.8" y="679.9" font-family="Liberation Sans, sans-serif" font-size="11" fill="#3a3a3a" text-anchor="start" font-weight="normal" textLength="26.5" lengthAdjust="spacingAndGlyphs">40.00</text>
<text x="1776.8" y="723.9" font-family="Liberation Sans, sans-serif" font-size="11" fill="#3a3a3a" text-anchor="start" font-weight="normal" textLength="26.5" lengthAdjust="spacingAndGlyphs">10.00</text>
<text x="1776.8" y="757.9" font-family="Liberation Sans, sans-serif" font-size="11" fill="#3a3a3a" text-anchor="start" font-weight="normal" textLength="20.6" lengthAdjust="spacingAndGlyphs">0.00</text>
<path d="M1766.0 48.8H1818a2 2 0 0 1 2 2V63.7a2 2 0 0 1 -2 2H1766.0Z" fill="#ff0000"/>
<text x="1776.8" y="61.6" font-family="Liberation Sans, sans-serif" font-size="11" fill="#ffffff" text-anchor="start" font-weight="bold" textLength="37.8" lengthAdjust="spacingAndGlyphs">1369.58</text>
<linearGradient id="wf" x1="0" y1="0" x2="0" y2="1"><stop offset="0" stop-color="#fff" stop-opacity="1"/><stop offset="1" stop-color="#fff" stop-opacity="0"/></linearGradient>
<rect x="1766.0" y="48" width="55" height="7" fill="url(#wf)"/>
<rect x="1766.0" y="28" width="1" height="23" fill="#505050"/>
<path d="M1766.0 146H1818a2 2 0 0 1 2 2V173.9a2 2 0 0 1 -2 2H1766.0Z" fill="#ff0000"/>
<text x="1776.8" y="158.5" font-family="Liberation Sans, sans-serif" font-size="11" fill="#ffffff" text-anchor="start" font-weight="bold" textLength="37.8" lengthAdjust="spacingAndGlyphs">1346.31</text>
<text x="1776.8" y="171.5" font-family="Liberation Sans, sans-serif" font-size="11" fill="rgba(255,255,255,0.88)" text-anchor="start" font-weight="normal" textLength="27" lengthAdjust="spacingAndGlyphs">29:54</text>
<path d="M1766.0 204H1818a2 2 0 0 1 2 2V219a2 2 0 0 1 -2 2H1766.0Z" fill="#4caf50"/>
<text x="1776.8" y="216.6" font-family="Liberation Sans, sans-serif" font-size="11" fill="#ffffff" text-anchor="start" font-weight="bold" textLength="37.8" lengthAdjust="spacingAndGlyphs">1332.28</text>
<path d="M1766.0 256.3H1818a2 2 0 0 1 2 2V271a2 2 0 0 1 -2 2H1766.0Z" fill="#4caf50"/>
<text x="1776.8" y="268.6" font-family="Liberation Sans, sans-serif" font-size="11" fill="#ffffff" text-anchor="start" font-weight="bold" textLength="37.8" lengthAdjust="spacingAndGlyphs">1319.76</text>
<path d="M1766.0 460.9H1818a2 2 0 0 1 2 2V475.8a2 2 0 0 1 -2 2H1766.0Z" fill="#4caf50"/>
<text x="1776.8" y="473.3" font-family="Liberation Sans, sans-serif" font-size="11" fill="#ffffff" text-anchor="start" font-weight="bold" textLength="37.8" lengthAdjust="spacingAndGlyphs">1270.39</text>
<text x="1757.7" y="47.8" font-family="Liberation Sans, sans-serif" font-size="12" fill="#8a8a8a" text-anchor="end" font-weight="normal" textLength="56.7" lengthAdjust="spacingAndGlyphs">0(1370.25)</text>
<text x="1757.7" y="163.8" font-family="Liberation Sans, sans-serif" font-size="12" fill="#cf2a2a" text-anchor="end" font-weight="normal" textLength="80" lengthAdjust="spacingAndGlyphs">0.236(1342.50)</text>
<text x="1757.7" y="293.2" font-family="Liberation Sans, sans-serif" font-size="12" fill="#5b1a3a" text-anchor="end" font-weight="normal" textLength="67.8" lengthAdjust="spacingAndGlyphs">0.5(1311.46)</text>
<text x="1757.7" y="349.8" font-family="Liberation Sans, sans-serif" font-size="12" fill="#26c99a" text-anchor="end" font-weight="normal" textLength="80" lengthAdjust="spacingAndGlyphs">0.618(1297.59)</text>
<text x="1757.7" y="421" font-family="Liberation Sans, sans-serif" font-size="12" fill="#f51010" text-anchor="end" font-weight="normal" textLength="80" lengthAdjust="spacingAndGlyphs">0.764(1280.42)</text>
<text x="1757.7" y="537.2" font-family="Liberation Sans, sans-serif" font-size="12" fill="#5fb0e8" text-anchor="end" font-weight="normal" textLength="56.2" lengthAdjust="spacingAndGlyphs">1(1252.67)</text>
<clipPath id="ct"><rect x="11.0" y="783" width="1756.0" height="27"/></clipPath><g clip-path="url(#ct)">
<text x="17.0" y="799" font-family="Liberation Sans, sans-serif" font-size="11" fill="#3a3a3a" text-anchor="middle" font-weight="normal" textLength="27.2" lengthAdjust="spacingAndGlyphs">12:00</text>
<text x="121.4" y="799" font-family="Liberation Sans, sans-serif" font-size="11" fill="#3a3a3a" text-anchor="middle" font-weight="normal" textLength="11.3" lengthAdjust="spacingAndGlyphs">20</text>
<text x="225.8" y="799" font-family="Liberation Sans, sans-serif" font-size="11" fill="#3a3a3a" text-anchor="middle" font-weight="normal" textLength="27.2" lengthAdjust="spacingAndGlyphs">12:00</text>
<text x="330.1" y="799" font-family="Liberation Sans, sans-serif" font-size="11" fill="#3a3a3a" text-anchor="middle" font-weight="normal" textLength="11.3" lengthAdjust="spacingAndGlyphs">21</text>
<text x="434.5" y="799" font-family="Liberation Sans, sans-serif" font-size="11" fill="#3a3a3a" text-anchor="middle" font-weight="normal" textLength="27.2" lengthAdjust="spacingAndGlyphs">12:00</text>
<text x="538.9" y="799" font-family="Liberation Sans, sans-serif" font-size="11" fill="#3a3a3a" text-anchor="middle" font-weight="normal" textLength="11.3" lengthAdjust="spacingAndGlyphs">22</text>
<text x="643.2" y="799" font-family="Liberation Sans, sans-serif" font-size="11" fill="#3a3a3a" text-anchor="middle" font-weight="normal" textLength="27.2" lengthAdjust="spacingAndGlyphs">12:00</text>
<text x="747.6" y="799" font-family="Liberation Sans, sans-serif" font-size="11" fill="#3a3a3a" text-anchor="middle" font-weight="normal" textLength="11.3" lengthAdjust="spacingAndGlyphs">23</text>
<text x="852.0" y="799" font-family="Liberation Sans, sans-serif" font-size="11" fill="#3a3a3a" text-anchor="middle" font-weight="normal" textLength="27.2" lengthAdjust="spacingAndGlyphs">12:00</text>
<text x="956.3" y="799" font-family="Liberation Sans, sans-serif" font-size="11" fill="#3a3a3a" text-anchor="middle" font-weight="bold" textLength="12" lengthAdjust="spacingAndGlyphs">24</text>
<text x="1060.7" y="799" font-family="Liberation Sans, sans-serif" font-size="11" fill="#3a3a3a" text-anchor="middle" font-weight="normal" textLength="27.2" lengthAdjust="spacingAndGlyphs">12:00</text>
<text x="1165.1" y="799" font-family="Liberation Sans, sans-serif" font-size="11" fill="#3a3a3a" text-anchor="middle" font-weight="normal" textLength="11.3" lengthAdjust="spacingAndGlyphs">25</text>
<text x="1269.5" y="799" font-family="Liberation Sans, sans-serif" font-size="11" fill="#3a3a3a" text-anchor="middle" font-weight="normal" textLength="27.2" lengthAdjust="spacingAndGlyphs">12:00</text>
<text x="1373.8" y="799" font-family="Liberation Sans, sans-serif" font-size="11" fill="#3a3a3a" text-anchor="middle" font-weight="normal" textLength="11.3" lengthAdjust="spacingAndGlyphs">26</text>
<text x="1478.2" y="799" font-family="Liberation Sans, sans-serif" font-size="11" fill="#3a3a3a" text-anchor="middle" font-weight="normal" textLength="27.2" lengthAdjust="spacingAndGlyphs">12:00</text>
<text x="1582.6" y="799" font-family="Liberation Sans, sans-serif" font-size="11" fill="#3a3a3a" text-anchor="middle" font-weight="normal" textLength="11.3" lengthAdjust="spacingAndGlyphs">27</text>
<text x="1686.9" y="799" font-family="Liberation Sans, sans-serif" font-size="11" fill="#3a3a3a" text-anchor="middle" font-weight="normal" textLength="27.2" lengthAdjust="spacingAndGlyphs">12:00</text>
</g>
<text x="10.4" y="19" font-family="Liberation Sans, sans-serif" font-size="12.5" fill="#2e2e2e" text-anchor="start" font-weight="normal" textLength="367.2" lengthAdjust="spacingAndGlyphs">aayushjindal published on TradingView.com, Oct 25, 2022 04:30 UTC</text>
<text x="18.3" y="45.6" font-family="Liberation Sans, sans-serif" font-size="12" fill="#3a3a3a" text-anchor="start" font-weight="normal" textLength="191.7" lengthAdjust="spacingAndGlyphs">Ethereum / U.S. Dollar, 1h, KRAKEN</text>
<text x="218" y="45.6" font-family="Liberation Sans, sans-serif" font-size="12" fill="#3a3a3a" text-anchor="start" font-weight="normal" textLength="8.3" lengthAdjust="spacingAndGlyphs">O</text>
<text x="227.3" y="45.6" font-family="Liberation Sans, sans-serif" font-size="12" fill="#7d2b2b" text-anchor="start" font-weight="normal" textLength="40.4" lengthAdjust="spacingAndGlyphs">1346.87</text>
<text x="275.6" y="45.6" font-family="Liberation Sans, sans-serif" font-size="12" fill="#3a3a3a" text-anchor="start" font-weight="normal" textLength="7.2" lengthAdjust="spacingAndGlyphs">H</text>
<text x="282.9" y="45.6" font-family="Liberation Sans, sans-serif" font-size="12" fill="#7d2b2b" text-anchor="start" font-weight="normal" textLength="41.7" lengthAdjust="spacingAndGlyphs">1350.87</text>
<text x="332.6" y="45.6" font-family="Liberation Sans, sans-serif" font-size="12" fill="#3a3a3a" text-anchor="start" font-weight="normal" textLength="5.5" lengthAdjust="spacingAndGlyphs">L</text>
<text x="338.5" y="45.6" font-family="Liberation Sans, sans-serif" font-size="12" fill="#7d2b2b" text-anchor="start" font-weight="normal" textLength="41.3" lengthAdjust="spacingAndGlyphs">1346.18</text>
<text x="388.2" y="45.6" font-family="Liberation Sans, sans-serif" font-size="12" fill="#3a3a3a" text-anchor="start" font-weight="normal" textLength="7" lengthAdjust="spacingAndGlyphs">C</text>
<text x="396.1" y="45.6" font-family="Liberation Sans, sans-serif" font-size="12" fill="#7d2b2b" text-anchor="start" font-weight="normal" textLength="40.3" lengthAdjust="spacingAndGlyphs">1346.31</text>
<text x="445.6" y="45.6" font-family="Liberation Sans, sans-serif" font-size="12" fill="#7d2b2b" text-anchor="start" font-weight="normal" textLength="77.9" lengthAdjust="spacingAndGlyphs">−0.56 (−0.04%)</text>
<text x="18.3" y="62.7" font-family="Liberation Sans, sans-serif" font-size="12" fill="#3a3a3a" text-anchor="start" font-weight="normal" textLength="87.6" lengthAdjust="spacingAndGlyphs">EMA (100, close)</text>
<text x="114.5" y="62.7" font-family="Liberation Sans, sans-serif" font-size="12" fill="#1ab6d3" text-anchor="start" font-weight="normal" textLength="41.2" lengthAdjust="spacingAndGlyphs">1324.15</text>
<text x="18.3" y="590.6" font-family="Liberation Sans, sans-serif" font-size="12" fill="#3a3a3a" text-anchor="start" font-weight="normal" textLength="75.5" lengthAdjust="spacingAndGlyphs">RSI (14, close)</text>
<text x="102.2" y="590.6" font-family="Liberation Sans, sans-serif" font-size="12" fill="#9c27b0" text-anchor="start" font-weight="normal" textLength="29" lengthAdjust="spacingAndGlyphs">54.64</text>
<text x="18.3" y="724.6" font-family="Liberation Sans, sans-serif" font-size="12" fill="#3a3a3a" text-anchor="start" font-weight="normal" textLength="125" lengthAdjust="spacingAndGlyphs">MACD (12, 26, close, 9)</text>
<text x="151.3" y="724.6" font-family="Liberation Sans, sans-serif" font-size="12" fill="#f0156a" text-anchor="start" font-weight="normal" textLength="28.8" lengthAdjust="spacingAndGlyphs">−0.70</text>
<text x="187.5" y="724.6" font-family="Liberation Sans, sans-serif" font-size="12" fill="#2196f3" text-anchor="start" font-weight="normal" textLength="23.3" lengthAdjust="spacingAndGlyphs">2.10</text>
<text x="218" y="724.6" font-family="Liberation Sans, sans-serif" font-size="12" fill="#ff7a1a" text-anchor="start" font-weight="normal" textLength="23.5" lengthAdjust="spacingAndGlyphs">2.80</text>
<g fill="#1e222d"><path d="M10.2 822.2h7.6v9.7h-3.9v-5.9h-3.7z"/><circle cx="21" cy="824.1" r="1.95"/><path d="M24.9 822.2h4.6l-4.1 9.7h-4.5z"/></g>
<text x="32.9" y="832" font-family="Liberation Sans, sans-serif" font-size="13.5" fill="#2c303b" text-anchor="start" font-weight="normal" textLength="70.5" lengthAdjust="spacingAndGlyphs">TradingView</text>
</svg>
</body></html>
